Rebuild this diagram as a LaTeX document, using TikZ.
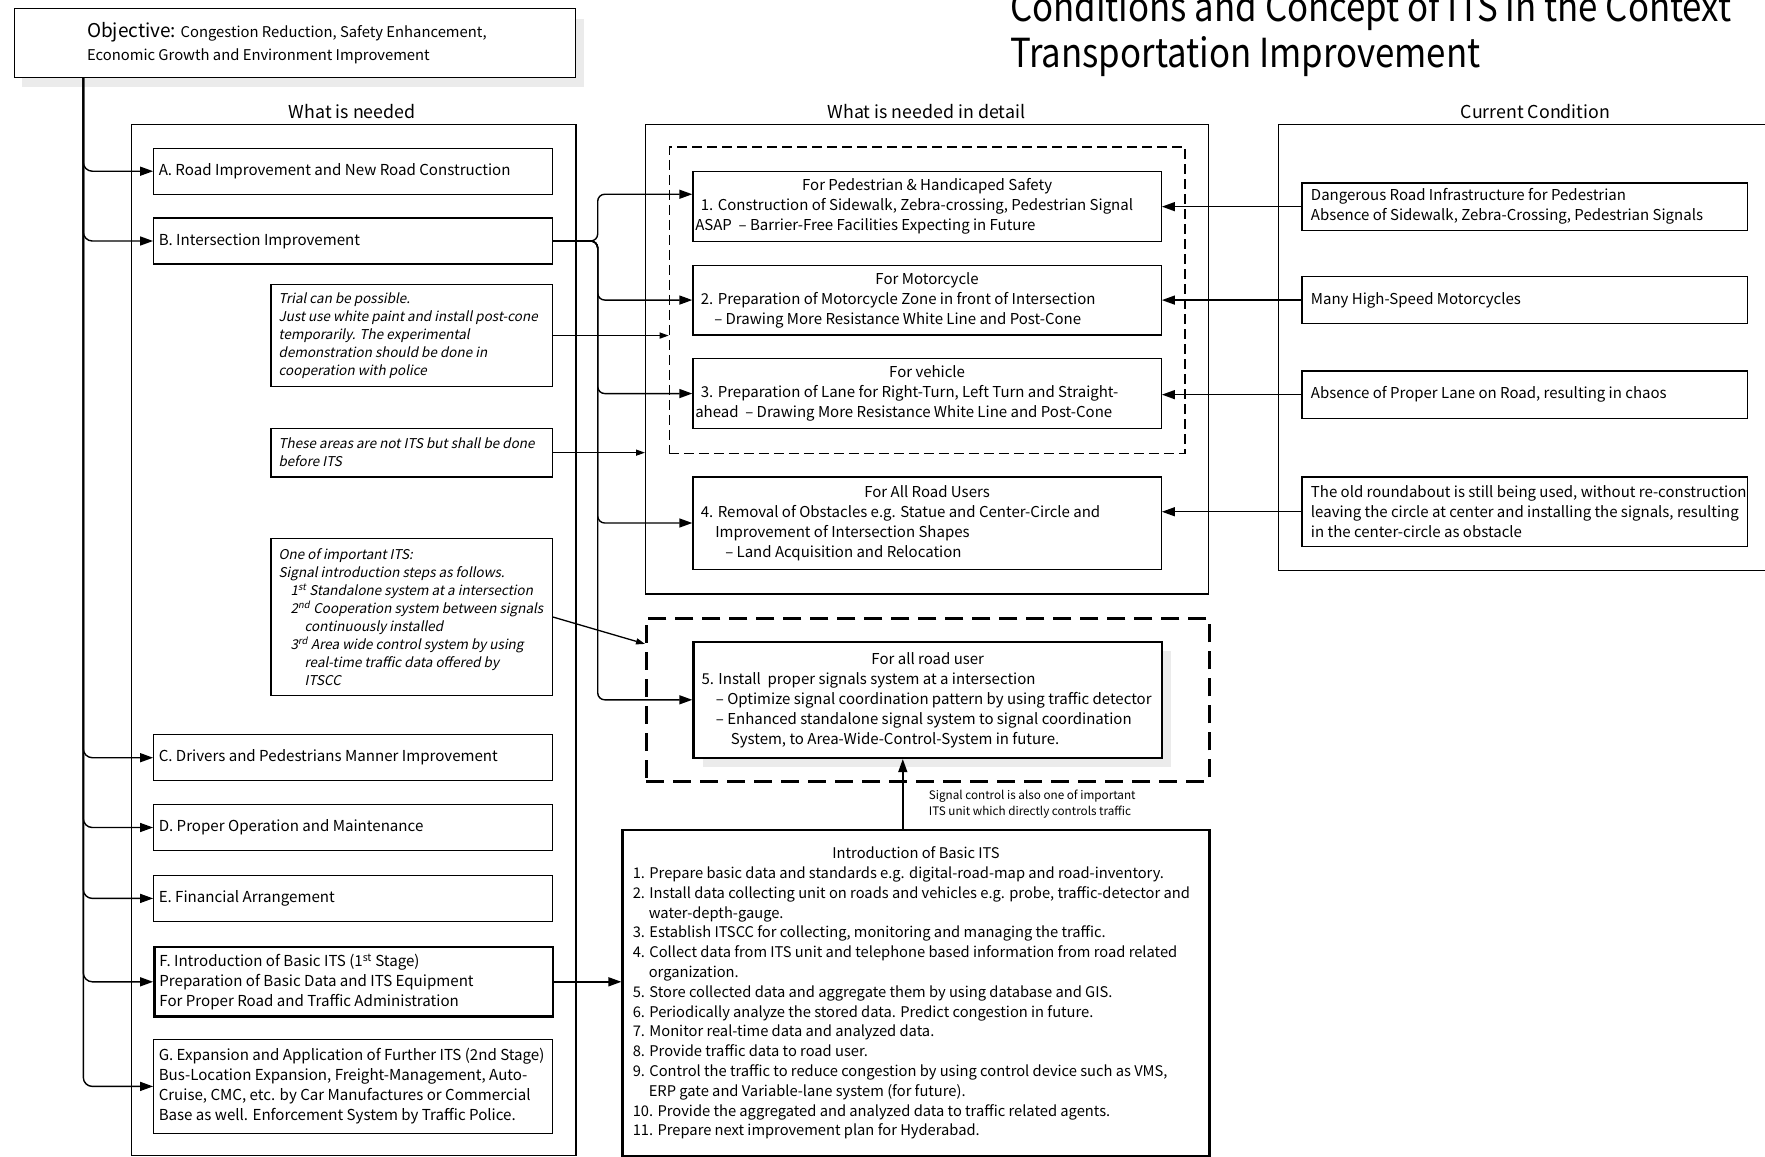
\documentclass[tikz,border=0pt]{standalone}
\usepackage{fontspec}
\setmainfont{Noto Sans CJK JP}
\newfontfamily\slantfont{Noto Sans CJK JP}[FakeSlant=0.2]
\newfontfamily\condfont{Noto Sans CJK JP}[FakeStretch=0.87]
\usetikzlibrary{arrows.meta,shadows}

% size / baselineskip in pt
\newcommand\fz[2]{\fontsize{#1pt}{#2pt}\selectfont}
% first line of a box fixes the width of the text block
\newcommand\firstline[2]{\makebox[#1pt][l]{#2}}
\newcommand\midline[2]{\makebox[#1pt][c]{#2}}
\newcommand\ind[1]{\hspace*{#1pt}}

\tikzset{
  frame/.style={draw, line width=1.3pt, anchor=north west, align=left, inner sep=0pt},
  thickframe/.style={line width=2.6pt},
  lbox/.style={frame, minimum width=398.5pt, inner xsep=5pt, font=\fz{15.1}{20}},
  nbox/.style={frame, minimum width=281.4pt, inner xsep=7.8pt, font=\slantfont\fz{13.5}{18}},
  dbox/.style={frame, minimum width=468.3pt, inner xsep=2.3pt, font=\fz{15}{20}},
  cbox/.style={frame, minimum width=445.8pt, inner xsep=9pt, font=\fz{15}{20.3}},
  header/.style={inner sep=0pt, font=\fz{17.8}{22}},
  softshadow/.style={fill=white, general shadow={fill=black!8, draw=none, shadow xshift=#1pt, shadow yshift=-#1pt}},
  conn/.style={line width=1.4pt, -{Triangle[length=13pt,width=9pt]}},
  sconn/.style={line width=1.3pt, -{Triangle[length=9pt,width=6pt]}},
}

\begin{document}
\begin{tikzpicture}[x=1pt, y=-1pt]
\fill[white, use as bounding box] (0,0) rectangle (1765,1157);

% title
\node[anchor=base west, inner sep=0pt, font=\condfont\fz{40}{44}] (title1) at (1010,21) {Conditions and Concept of ITS in the Context};
\node[anchor=base west, inner sep=0pt, font=\condfont\fz{40}{44}] (title2) at (1010,67) {Transportation Improvement};

% objective
\node[frame, fill=white, minimum width=561.5pt, minimum height=68.5pt, inner xsep=4pt,
      general shadow={fill=black!8, draw=none, shadow xshift=8pt, shadow yshift=-10pt},
      font=\fz{14.8}{22.5}] (obj) at (13.5,8)
  {\firstline{553.5}{\ind{69}{\fz{19}{22.5}Objective:} Congestion Reduction, Safety Enhancement,}\\
   \ind{69}Economic Growth and Environment Improvement};

% column frames and headers
\node[frame, minimum width=444.6pt, minimum height=1031.2pt] (needs) at (130.6,123.8) {};
\node[frame, minimum width=562.9pt, minimum height=469.4pt] (detail) at (645,123.8) {};
\node[frame, minimum width=507.3pt, minimum height=445.8pt] (current) at (1277.7,123.8) {};
\node[frame, dash pattern=on 10pt off 5pt, minimum width=515.5pt, minimum height=306.2pt] (d1) at (668.7,146.3) {};
\node[frame, line width=2.6pt, dash pattern=on 18pt off 9pt, minimum width=562.9pt, minimum height=163.2pt] (d2) at (645,616.9) {};

\node[header] (hneed) at (352.3,111.4) {What is needed};
\node[header] (hdetail) at (926.4,111.4) {What is needed in detail};
\node[header] (hcurrent) at (1535.5,111.4) {Current Condition};

% what is needed
\node[lbox, minimum height=46.1pt] (A) at (153.1,147.5) {\firstline{388.5}{A. Road Improvement and New Road Construction}};
\node[lbox, minimum height=46.1pt] (B) at (153.1,217.3) {\firstline{388.5}{B. Intersection Improvement}};
\node[lbox, minimum height=46.1pt] (C) at (153.1,734) {\firstline{388.5}{C. Drivers and Pedestrians Manner Improvement}};
\node[lbox, minimum height=46.1pt] (D) at (153.1,803.8) {\firstline{388.5}{D. Proper Operation and Maintenance}};
\node[lbox, minimum height=46.1pt] (E) at (153.1,874.7) {\firstline{388.5}{E. Financial Arrangement}};
\node[lbox, thickframe, minimum height=69.8pt] (F) at (153.1,945.6)
  {\firstline{388.5}{F. Introduction of Basic ITS (1\textsuperscript{st} Stage)}\\
   Preparation of Basic Data and ITS Equipment\\
   For Proper Road and Traffic Administration};
\node[lbox, minimum height=93.5pt] (G) at (153.1,1039)
  {\firstline{388.5}{G. Expansion and Application of Further ITS (2nd Stage)}\\
   Bus-Location Expansion, Freight-Management, Auto-\\
   Cruise, CMC, etc. by Car Manufactures or Commercial\\
   Base as well. Enforcement System by Traffic Police.};

% remarks
\node[nbox, minimum height=102.4pt] (n1) at (270.2,283.7)
  {\firstline{265.8}{Trial can be possible.}\\
   Just use white paint and install post-cone\\
   temporarily. The experimental\\
   demonstration should be done in\\
   cooperation with police};
\node[nbox, minimum height=48.4pt] (n2) at (270.2,427.8)
  {\firstline{265.8}{These areas are not ITS but shall be done}\\
   before ITS};
\node[nbox, minimum height=156.5pt] (n3) at (270.2,538.1)
  {\firstline{265.8}{One of important ITS:}\\
   Signal introduction steps as follows.\\
   \ind{12}1\textsuperscript{st} Standalone system at a intersection\\
   \ind{12}2\textsuperscript{nd} Cooperation system between signals\\
   \ind{26}continuously installed\\
   \ind{12}3\textsuperscript{rd} Area wide control system by using\\
   \ind{26}real-time traffic data offered by\\
   \ind{26}ITSCC};

% what is needed in detail
\node[dbox, minimum height=69.8pt] (box1) at (692.3,171.1)
  {\midline{463.7}{For Pedestrian \& Handicaped Safety}\\
   \ind{5.6}1. Construction of Sidewalk, Zebra-crossing, Pedestrian Signal\\
   ASAP\ \ – Barrier-Free Facilities Expecting in Future};
\node[dbox, minimum height=69.8pt] (box2) at (692.3,264.5)
  {\midline{463.7}{For Motorcycle}\\
   \ind{5.6}2. Preparation of Motorcycle Zone in front of Intersection\\
   \ind{19}– Drawing More Resistance White Line and Post-Cone};
\node[dbox, minimum height=69.8pt] (box3) at (692.3,358)
  {\midline{463.7}{For vehicle}\\
   \ind{5.6}3. Preparation of Lane for Right-Turn, Left Turn and Straight-\\
   ahead\ \ – Drawing More Resistance White Line and Post-Cone};
\node[dbox, minimum height=92.3pt] (box4) at (692.3,476.2)
  {\midline{463.7}{For All Road Users}\\
   \ind{5.6}4. Removal of Obstacles e.g. Statue and Center-Circle and\\
   \ind{20}Improvement of Intersection Shapes\\
   \ind{30}– Land Acquisition and Relocation};
\node[dbox, thickframe, softshadow=9, minimum height=116pt] (box5) at (692.3,640.5)
  {\midline{463.7}{For all road user}\\
   \ind{5.6}5. Install\ \ proper signals system at a intersection\\
   \ind{20}– Optimize signal coordination pattern by using traffic detector\\
   \ind{20}– Enhanced standalone signal system to signal coordination\\
   \ind{35}System, to Area-Wide-Control-System in future.};

% basic ITS
\node[frame, thickframe, minimum width=586.5pt, minimum height=326.5pt, inner xsep=10.1pt, font=\fz{14.7}{19.8}] (its) at (621.4,828.5)
  {\midline{566.4}{Introduction of Basic ITS}\\
   1. Prepare basic data and standards e.g. digital-road-map and road-inventory.\\
   2. Install data collecting unit on roads and vehicles e.g. probe, traffic-detector and\\
   \ind{16}water-depth-gauge.\\
   3. Establish ITSCC for collecting, monitoring and managing the traffic.\\
   4. Collect data from ITS unit and telephone based information from road related\\
   \ind{16}organization.\\
   5. Store collected data and aggregate them by using database and GIS.\\
   6. Periodically analyze the stored data. Predict congestion in future.\\
   7. Monitor real-time data and analyzed data.\\
   8. Provide traffic data to road user.\\
   9. Control the traffic to reduce congestion by using control device such as VMS,\\
   \ind{16}ERP gate and Variable-lane system (for future).\\
   10. Provide the aggregated and analyzed data to traffic related agents.\\
   11. Prepare next improvement plan for Hyderabad.};

\node[anchor=west, align=left, inner sep=0pt, font=\fz{11.7}{15.7}] (lab) at (928.7,803.8)
  {Signal control is also one of important\\ITS unit which directly controls traffic};

% current condition
\node[cbox, minimum height=47.2pt] (cc1) at (1301.3,182.4)
  {\firstline{427.8}{Dangerous Road Infrastructure for Pedestrian}\\
   Absence of Sidewalk, Zebra-Crossing, Pedestrian Signals};
\node[cbox, minimum height=47.3pt] (cc2) at (1301.3,275.8) {\firstline{427.8}{Many High-Speed Motorcycles}};
\node[cbox, minimum height=47.2pt] (cc3) at (1301.3,370.4) {\firstline{427.8}{Absence of Proper Lane on Road, resulting in chaos}};
\node[cbox, minimum height=69.8pt] (cc4) at (1301.3,476.2)
  {\firstline{427.8}{The old roundabout is still being used, without re-construction}\\
   leaving the circle at center and installing the signals, resulting\\
   in the center-circle as obstacle};

% connectors
\coordinate (trunk) at (obj.south -| 83.3,0);
\foreach \t in {A,B,C,D,E,F,G}
  \draw[conn, rounded corners=9pt] (trunk) |- (\t.west);

\coordinate (bj) at (B.east -| 597.7,0);
\draw[conn, rounded corners=7pt] (B.east) -- (bj) |- ([yshift=12.4pt]box1.west);
\foreach \t in {box2,box3,box4,box5}
  \draw[conn, rounded corners=7pt] (B.east) -- (bj) |- (\t.west);

\draw[sconn] (n1.east) -- (n1.east -| d1.west);
\draw[sconn] (n2.east) -- (n2.east -| detail.west);
\draw[sconn] (n3.east) -- ([yshift=-27pt]d2.north west);

\draw[conn] (F.east) -- (F.east -| its.west);
\coordinate (upx) at (902.8,800);
\draw[conn] (its.north -| upx) -- (box5.south -| upx);

\foreach \s/\t in {cc1/box1,cc2/box2,cc3/box3,cc4/box4}
  \draw[conn] (\s.west) -- (\s.west -| \t.east);
\end{tikzpicture}
\end{document}
